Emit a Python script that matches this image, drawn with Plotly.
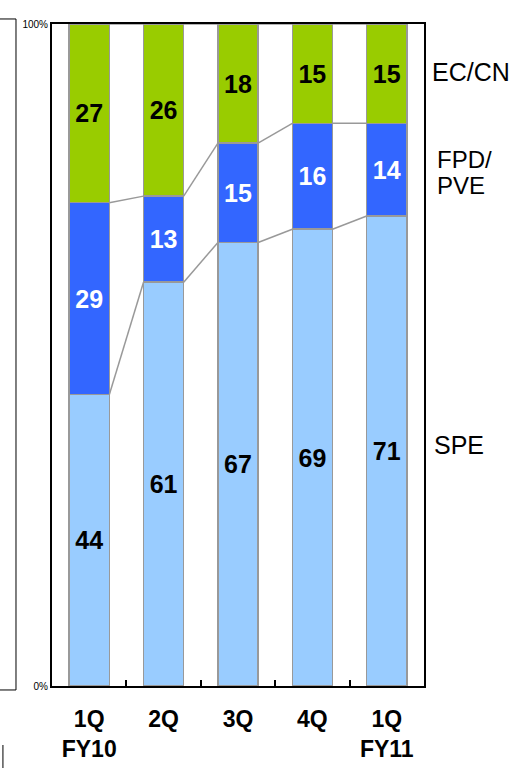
import plotly.graph_objects as go

# valores (% por trimestre)
trimestres = ["1Q<br>FY10", "2Q", "3Q", "4Q", "1Q<br>FY11"]
spe = [44, 61, 67, 69, 71]
fpd_pve = [29, 13, 15, 16, 14]
ec_cn = [27, 26, 18, 15, 15]

COR_SPE = "#99CCFF"
COR_FPD = "#3366FF"
COR_EC = "#99CC00"
COR_BORDA = "#999999"
FONTE = "Arial, 'Liberation Sans', sans-serif"
BARGAP = 0.46

fig = go.Figure()
for nome, valores, cor, cor_txt in [
    ("SPE", spe, COR_SPE, "black"),
    ("FPD/PVE", fpd_pve, COR_FPD, "white"),
    ("EC/CN", ec_cn, COR_EC, "black"),
]:
    fig.add_trace(
        go.Bar(
            x=trimestres,
            y=valores,
            name=nome,
            marker=dict(color=cor, line=dict(color=COR_BORDA, width=1.5)),
            text=valores,
            textposition="inside",
            insidetextanchor="middle",
            textangle=0,
            constraintext="none",
            textfont=dict(family=FONTE, size=25, color=cor_txt, weight="bold"),
            hoverinfo="skip",
        )
    )

# linhas cinza ligando os segmentos entre barras vizinhas
meia = (1 - BARGAP) / 2
niveis = [
    [a for a in spe],
    [a + b for a, b in zip(spe, fpd_pve)],
    [a + b + c for a, b, c in zip(spe, fpd_pve, ec_cn)],
]
for nivel in niveis:
    for i in range(len(trimestres) - 1):
        fig.add_shape(
            type="line", xref="x", yref="y",
            x0=i + meia, x1=i + 1 - meia, y0=nivel[i], y1=nivel[i + 1],
            line=dict(color=COR_BORDA, width=1.5), layer="above",
        )

# rótulos à direita
for texto, y, x, tam in [("EC/CN", 92.7, 1.016, 25), ("FPD/", 79.5, 1.03, 24),
                         ("PVE", 75.6, 1.03, 24), ("SPE", 36.4, 1.021, 25)]:
    fig.add_annotation(
        text=texto, x=x, y=y, xref="paper", yref="y",
        xanchor="left", yanchor="middle", showarrow=False,
        font=dict(family=FONTE, size=tam, color="black"),
    )

# moldura do painel vizinho (recortado) à esquerda
fig.add_shape(type="rect", xref="paper", yref="paper",
              x0=-0.2, x1=-0.0968, y0=-0.006, y1=1.0076,
              line=dict(color="black", width=1))
fig.add_shape(type="line", xref="paper", yref="paper",
              x0=-0.132, x1=-0.132, y0=-0.089, y1=-0.13,
              line=dict(color="#555555", width=1.5))

fig.update_layout(
    width=515,
    height=768,
    barmode="stack",
    bargap=BARGAP,
    showlegend=False,
    paper_bgcolor="white",
    plot_bgcolor="white",
    font=dict(family=FONTE, color="black"),
    margin=dict(l=52, r=91, t=24, b=82),
    xaxis=dict(
        type="category",
        showline=True, linecolor="black", linewidth=2, mirror=True,
        ticks="inside", ticklen=6, tickcolor="black", tickwidth=2,
        tickson="boundaries",
        tickfont=dict(family=FONTE, size=23, color="black", weight="bold"),
        ticklabelstandoff=11,
        showgrid=False,
        automargin=False,
        layer="below traces",
    ),
    yaxis=dict(
        range=[0, 100],
        tickvals=[0, 100],
        ticktext=["0%", "100%"],
        tickfont=dict(family=FONTE, size=10, color="black"),
        showline=True, linecolor="black", linewidth=2, mirror=True,
        ticks="", showgrid=False, zeroline=False,
        automargin=False,
        layer="below traces",
    ),
)

fig.write_html("out.html", config={"displayModeBar": False},
               post_script="document.body.style.margin='0';")
